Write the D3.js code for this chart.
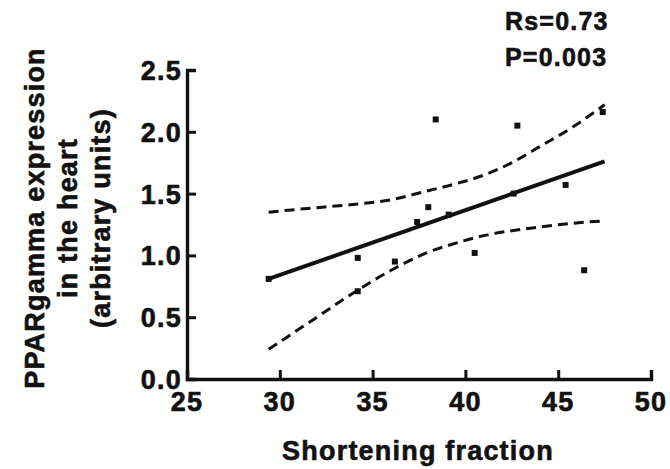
<!DOCTYPE html>
<html>
<head>
<meta charset="utf-8">
<script src="https://cdn.jsdelivr.net/npm/d3@7"></script>
<style>
  body { margin: 0; background: #fff; }
  text { font-family: "Liberation Sans", Arial, sans-serif; font-weight: bold; fill: #111; stroke: #111; stroke-width: 0.6px; letter-spacing: 1.2px; }
</style>
</head>
<body>
<div id="chart"></div>
<script>
// scatter of PPARgamma vs shortening fraction

// data
var fraction = [29.4, 34.2, 34.2, 36.2, 37.4, 38.0, 38.4, 39.1, 40.5, 42.6, 42.8, 45.4, 46.4, 47.4];
var expression = [0.81, 0.98, 0.71, 0.95, 1.27, 1.39, 2.10, 1.33, 1.02, 1.50, 2.05, 1.57, 0.88, 2.16];

// regression line end points
var fitX = [29.4, 47.5];
var fitY = [0.81, 1.76];

// 95% confidence band, read at a few x positions
var bandX = [29.4, 31.5, 33.8, 36.0, 37.9, 39.5, 41.0, 42.5, 44.0, 45.8, 47.5];
var upperY = [1.35, 1.38, 1.41, 1.45, 1.52, 1.58, 1.65, 1.75, 1.88, 2.04, 2.22];
var lowerY = [0.24, 0.45, 0.68, 0.88, 1.02, 1.10, 1.16, 1.20, 1.23, 1.26, 1.28];

var xTicks = [25, 30, 35, 40, 45, 50];
var yTicks = [0.0, 0.5, 1.0, 1.5, 2.0, 2.5];

var width = 670;
var height = 469;

var svg = d3.select("#chart")
  .append("svg")
  .attr("width", width)
  .attr("height", height);

var x = d3.scaleLinear().domain([25, 50]).range([187, 651]);
var y = d3.scaleLinear().domain([0, 2.5]).range([379, 70]);

// axes, ticks point inward like the original
var xAxis = svg.append("g")
  .attr("transform", "translate(0," + y(0) + ")")
  .call(d3.axisTop(x).tickValues(xTicks).tickSize(9).tickFormat(""));
var yAxis = svg.append("g")
  .attr("transform", "translate(" + x(25) + ",0)")
  .call(d3.axisRight(y).tickValues(yTicks).tickSize(9).tickFormat(""));

[xAxis, yAxis].forEach(function(a) {
  a.select(".domain").attr("stroke", "#111").attr("stroke-width", 3.4);
  a.selectAll(".tick line").attr("stroke", "#111").attr("stroke-width", 3);
});

// tick labels
svg.selectAll(".xlab")
  .data(xTicks)
  .enter()
  .append("text")
  .attr("x", d => x(d))
  .attr("y", 411)
  .attr("text-anchor", "middle")
  .style("font-size", "27px")
  .text(d => d);

svg.selectAll(".ylab")
  .data(yTicks)
  .enter()
  .append("text")
  .attr("x", 182)
  .attr("y", d => y(d) + 10)
  .attr("text-anchor", "end")
  .style("font-size", "27px")
  .text(d => d3.format(".1f")(d));

// axis titles
svg.append("text")
  .attr("x", 418)
  .attr("y", 460)
  .attr("text-anchor", "middle")
  .style("font-size", "27px")
  .text("Shortening fraction");

var yTitle = ["PPARgamma expression", "in the heart", "(arbitrary units)"];
svg.selectAll(".ytitle")
  .data(yTitle)
  .enter()
  .append("text")
  .attr("transform", (d, i) => "translate(" + (44 + i * 33) + ",218) rotate(-90)")
  .attr("text-anchor", "middle")
  .style("font-size", "27px")
  .text(d => d);

// stats
svg.append("text").attr("x", 505).attr("y", 30).style("font-size", "25px").text("Rs=0.73");
svg.append("text").attr("x", 505).attr("y", 66).style("font-size", "25px").text("P=0.003");

// confidence band
var band = d3.line()
  .x(d => x(d[0]))
  .y(d => y(d[1]))
  .curve(d3.curveMonotoneX);

[upperY, lowerY].forEach(function(ys) {
  svg.append("path")
    .datum(bandX.map((v, i) => [v, ys[i]]))
    .attr("d", band)
    .attr("fill", "none")
    .attr("stroke", "#111")
    .attr("stroke-width", 3)
    .attr("stroke-dasharray", "10,6");
});

// regression line
svg.append("line")
  .attr("x1", x(fitX[0]))
  .attr("y1", y(fitY[0]))
  .attr("x2", x(fitX[1]))
  .attr("y2", y(fitY[1]))
  .attr("stroke", "#111")
  .attr("stroke-width", 4);

// points
svg.selectAll(".pt")
  .data(fraction)
  .enter()
  .append("rect")
  .attr("x", (d, i) => x(d) - 3)
  .attr("y", (d, i) => y(expression[i]) - 3)
  .attr("width", 6)
  .attr("height", 6)
  .attr("fill", "#111");
</script>
</body>
</html>
